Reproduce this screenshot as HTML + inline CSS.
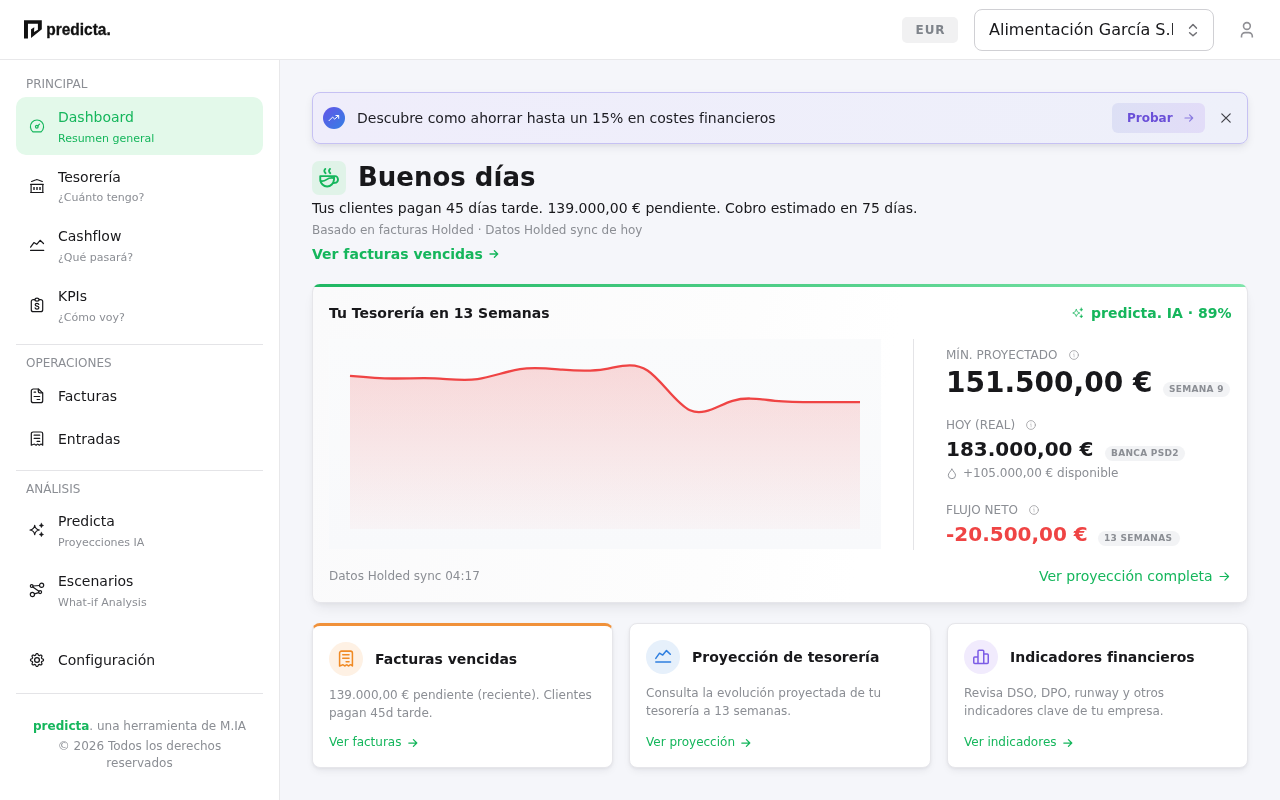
<!DOCTYPE html>
<html lang="es">
<head>
<meta charset="utf-8">
<title>predicta. Dashboard</title>
<style>
*{box-sizing:border-box;margin:0;padding:0}
html,body{width:1280px;height:800px;overflow:hidden}
body{font-family:"DejaVu Sans","Liberation Sans",sans-serif;background:#f5f6fa;color:#18181b;position:relative;font-size:14px;line-height:20px}
svg{display:block;overflow:visible}
.ic{position:absolute;width:16px;height:16px;fill:none;stroke:currentColor;stroke-width:1.2;stroke-linecap:round;stroke-linejoin:round}
/* header */
#hdr{position:absolute;left:0;top:0;width:1280px;height:60px;background:#fff;border-bottom:1px solid #e8e8ea}
#logo{position:absolute;left:24px;top:20px;width:90px;height:20px}
#eur{position:absolute;left:902px;top:17px;width:56px;height:26px;border-radius:5px;background:#f1f1f2;color:#7f848b;font-weight:700;font-size:12px;line-height:26px;text-align:center;letter-spacing:.9px;padding-left:1px}
#sel{position:absolute;left:974px;top:9px;width:240px;height:42px;border:1px solid #d0d0d4;border-radius:8px;background:#fff}
#sel span{position:absolute;left:14px;top:10px;width:184px;overflow:hidden;white-space:nowrap;font-size:16px;line-height:20px;color:#18181b}
/* sidebar */
#side{position:absolute;left:0;top:60px;width:280px;height:740px;background:#fff;border-right:1px solid #e8e8ea}
.sec{position:absolute;left:26px;font-size:12px;line-height:16px;color:#8b8e94;white-space:nowrap}
.hr{position:absolute;left:16px;width:247px;height:1px;background:#e4e4e7}
.it{position:absolute;left:16px;width:247px;height:58px;color:#18181b}
.it .t{position:absolute;left:42px;top:10px;font-size:14px;line-height:20px;white-space:nowrap}
.it .s{position:absolute;left:42px;top:33px;font-size:11px;line-height:15px;color:#8b8e94;white-space:nowrap}
.it .ic{left:13px;top:21px}
.it.one{height:40px}
.it.one .t{top:10px}
.it.one .ic{top:12px}
.act{background:#e3f9ea;border-radius:10px;color:#15b65c}
.act .s{color:#15b65c}
.foot{position:absolute;left:0;width:279px;text-align:center;font-size:12px;color:#8b8e94;white-space:nowrap}
.foot b{color:#15b65c}
/* main */
#ban{position:absolute;left:312px;top:92px;width:936px;height:52px;border:1px solid #c6c1f3;border-radius:8px;background:linear-gradient(90deg,#efedfb,#eef0fa);box-shadow:0 4px 10px -1px rgba(30,30,60,.09),0 2px 4px -1px rgba(30,30,60,.05)}
#ban .c{position:absolute;left:10px;top:14px;width:22px;height:22px;border-radius:50%;background:linear-gradient(135deg,#6454e8,#3380e4)}
#ban .tx{position:absolute;left:44px;top:15px;font-size:14px;line-height:20px;white-space:nowrap;color:#1c1c22}
#btn{position:absolute;left:799px;top:10px;width:93px;height:30px;border-radius:6px;background:linear-gradient(90deg,#dde0f5,#e2dcf8);color:#6a4fd8;font-weight:700;font-size:12px;line-height:30px;white-space:nowrap;padding-left:15px}
.g{color:#15b65c}
.m{color:#8b8e94}
.card{position:absolute;background:#fff;border:1px solid #e6e6ea;border-radius:8px;box-shadow:0 4px 8px -2px rgba(20,20,40,.08),0 1px 3px rgba(20,20,40,.05)}
.pill{position:absolute;height:15px;border-radius:8px;background:#f2f3f5;color:#8b8e94;font-weight:700;font-size:9px;line-height:15px;letter-spacing:.3px;padding:0 6px;white-space:nowrap}
.lbl{position:absolute;left:633px;font-size:12px;line-height:16px;color:#8b8e94;white-space:nowrap}
.num{position:absolute;left:633px;font-weight:700;white-space:nowrap;color:#18181b}
.ct{position:absolute;font-weight:700;font-size:14px;line-height:20px;white-space:nowrap}
.cd{position:absolute;left:16px;font-size:12px;line-height:18px;color:#8b8e94;white-space:nowrap}
.cl{position:absolute;left:16px;font-size:12px;line-height:16px;color:#15b65c;white-space:nowrap}
.circ{position:absolute;width:34px;height:34px;border-radius:50%}
.circ .ic{left:8px;top:8px;width:18px;height:18px;stroke-width:1.35}
.abs{position:absolute}
</style>
</head>
<body>

<div id="hdr">
  <svg id="logo" viewBox="0 0 90 20">
    <path fill="#111" d="M0 .2H17.8V9.3L7.05 18.1V9.3L10.3 7.2L10 12.1L13.9 9.65V3.8H3.96V18.4H0Z"/>
    <text x="22.2" y="14.8" font-family="Liberation Sans, DejaVu Sans, sans-serif" font-weight="700" font-size="17.2" fill="#111" stroke="#111" stroke-width=".3" textLength="64.6" lengthAdjust="spacingAndGlyphs">predicta.</text>
  </svg>
  <div id="eur">EUR</div>
  <div id="sel"><span>Alimentación García S.L.</span>
    <svg class="ic" style="left:210px;top:12px;color:#707075;stroke-width:1.5" viewBox="0 0 16 16"><path d="M4.6 6.1L8 2.6L11.4 6.1M4.6 10.7L8 13.7L11.4 10.7"/></svg>
  </div>
  <svg class="ic" style="left:1238px;top:22px;color:#909095;stroke-width:1.6" viewBox="0 0 16 16"><circle cx="8.9" cy="4" r="3.4"/><path d="M3.5 15.6V14.2A3.6 3.6 0 0 1 7.1 10.6H10.7A3.6 3.6 0 0 1 14.3 14.2V15.6" stroke-linecap="butt"/></svg>
</div>

<div id="side">
  <div class="sec" style="top:16px">PRINCIPAL</div>

  <div class="it act" style="top:37px">
    <svg class="ic" viewBox="0 0 16 16"><path d="M4.07 13.9A6.6 6.6 0 1 1 11.93 13.9Z"/><circle cx="7.8" cy="8.8" r="1.35"/><path d="M8.8 7.8L10.5 6.1"/></svg>
    <div class="t">Dashboard</div><div class="s" style="top:34px">Resumen general</div>
  </div>
  <div class="it" style="top:97px">
    <svg class="ic" viewBox="0 0 16 16"><path d="M2.6 3.5L7.1 1.7Q7.9 1.35 8.7 1.7L13.3 3.5M1.6 6.4H14.3M1.6 14.5H14.3M2.1 6.4V14.5M13.8 6.4V14.5"/><path d="M5 9V12M8 9V12M11 9V12" stroke-width="1.4" stroke-linecap="butt"/></svg>
    <div class="t">Tesorería</div><div class="s">¿Cuánto tengo?</div>
  </div>
  <div class="it" style="top:156px">
    <svg class="ic" style="top:22px" viewBox="0 0 16 16"><path d="M1.6 9.2L4.9 4.6L7.75 6.3L11.1 2.3L14.5 5.5M1.6 12.4H14.7"/></svg>
    <div class="t">Cashflow</div><div class="s" style="top:34px">¿Qué pasará?</div>
  </div>
  <div class="it" style="top:216px">
    <svg class="ic" style="top:22px" viewBox="0 0 16 16"><path d="M5.9 1.6H4.3A2 2 0 0 0 2.3 3.6V11.7A2 2 0 0 0 4.3 13.7H11.7A2 2 0 0 0 13.7 11.7V3.6A2 2 0 0 0 11.7 1.6H10.1"/><path d="M5.9 1.5A2.1 1.6 0 0 0 10.1 1.5A2.1 1.3 0 0 0 5.9 1.5Z"/><path d="M9.8 6.5Q9.6 5.3 8 5.3Q6.2 5.3 6.2 6.8Q6.2 7.9 8 8.2Q9.9 8.5 9.9 9.7Q9.9 11.1 8 11.1Q6.3 11.1 6.1 9.8"/></svg>
    <div class="t">KPIs</div><div class="s" style="top:34px">¿Cómo voy?</div>
  </div>

  <div class="hr" style="top:284px"></div>
  <div class="sec" style="top:295px">OPERACIONES</div>
  <div class="it one" style="top:316px">
    <svg class="ic" viewBox="0 0 16 16"><path d="M9.4 1H4.3A2 2 0 0 0 2.3 3V12.7A2 2 0 0 0 4.3 14.7H11.7A2 2 0 0 0 13.7 12.7V4.9Z"/><path d="M9.3 1.2V3.2A1.6 1.6 0 0 0 10.9 4.8H13.5" stroke-width="1.3"/><path d="M5.1 4.2H6.6M5.1 8.5H10.7M8.1 11.5H10.7"/></svg>
    <div class="t">Facturas</div>
  </div>
  <div class="it one" style="top:359px">
    <svg class="ic" viewBox="0 0 16 16"><path d="M2.3 14.2V2.7A1.7 1.7 0 0 1 4 1H12A1.7 1.7 0 0 1 13.7 2.7V14.2L12.6 13.3Q11.9 12.9 11.3 13.4L10.9 13.8Q10.3 14.4 9.6 13.8L9.2 13.4Q8.6 12.9 8 13.4L7.6 13.8Q7 14.4 6.3 13.8L5.9 13.4Q5.3 12.9 4.7 13.3Z"/><path d="M5.1 4.2H10.7M5.1 7.3H10.7M8.1 10.4H10.7"/></svg>
    <div class="t">Entradas</div>
  </div>

  <div class="hr" style="top:410px"></div>
  <div class="sec" style="top:421px">ANÁLISIS</div>
  <div class="it" style="top:441px">
    <svg class="ic" viewBox="0 0 16 16"><path d="M5.7 3.3Q6.2 7.4 10.4 8Q6.2 8.6 5.7 12.7Q5.2 8.6 1 8Q5.2 7.4 5.7 3.3Z"/><path fill="currentColor" stroke-width=".5" d="M12.4 1.3Q12.7 3.2 14.6 3.5Q12.7 3.8 12.4 5.7Q12.1 3.8 10.2 3.5Q12.1 3.2 12.4 1.3ZM12.4 10.3Q12.7 12.2 14.6 12.5Q12.7 12.8 12.4 14.7Q12.1 12.8 10.2 12.5Q12.1 12.2 12.4 10.3Z"/></svg>
    <div class="t">Predicta</div><div class="s" style="top:34px">Proyecciones IA</div>
  </div>
  <div class="it" style="top:501px">
    <svg class="ic" style="top:22px" viewBox="0 0 16 16"><circle cx="2.7" cy="3.1" r="1.4"/><circle cx="12.6" cy="2.3" r="2.1"/><circle cx="11.1" cy="9.1" r="1.5"/><circle cx="3.4" cy="11.5" r="2.1"/><path d="M4.1 3L10.5 2.5M3.8 4L9.9 8.3M9.7 9.6L5.4 10.9"/></svg>
    <div class="t">Escenarios</div><div class="s" style="top:34px">What-if Analysis</div>
  </div>
  <div class="it one" style="top:580px">
    <svg class="ic" viewBox="0 0 16 16"><path d="M8.00 1.50L8.56 1.63L9.04 2.09L9.33 3.02L9.69 3.37L10.08 3.53L10.58 3.54L11.44 3.08L12.11 3.10L12.60 3.40L12.90 3.89L12.92 4.56L12.46 5.42L12.47 5.92L12.63 6.31L12.98 6.67L13.91 6.96L14.37 7.44L14.50 8.00L14.37 8.56L13.91 9.04L12.98 9.33L12.63 9.69L12.47 10.08L12.46 10.58L12.92 11.44L12.90 12.11L12.60 12.60L12.11 12.90L11.44 12.92L10.58 12.46L10.08 12.47L9.69 12.63L9.33 12.98L9.04 13.91L8.56 14.37L8.00 14.50L7.44 14.37L6.96 13.91L6.67 12.98L6.31 12.63L5.92 12.47L5.42 12.46L4.56 12.92L3.89 12.90L3.40 12.60L3.10 12.11L3.08 11.44L3.54 10.58L3.53 10.08L3.37 9.69L3.02 9.33L2.09 9.04L1.63 8.56L1.50 8.00L1.63 7.44L2.09 6.96L3.02 6.67L3.37 6.31L3.53 5.92L3.54 5.42L3.08 4.56L3.10 3.89L3.40 3.40L3.89 3.10L4.56 3.08L5.42 3.54L5.92 3.53L6.31 3.37L6.67 3.02L6.96 2.09L7.44 1.63Z"/><circle cx="8" cy="8" r="2.4" stroke-width="1.3"/></svg>
    <div class="t">Configuración</div>
  </div>

  <div class="hr" style="top:633px"></div>
  <div class="foot" style="top:658px;line-height:16px"><b>predicta</b>. una herramienta de M.IA</div>
  <div class="foot" style="top:677.5px;line-height:17px">© 2026 Todos los derechos<br>reservados</div>
</div>

<div id="ban">
  <div class="c"><svg class="ic" style="left:5px;top:5px;width:12px;height:12px;color:#fff;stroke-width:1" viewBox="0 0 12 12"><path d="M1 8.7L4.6 5.1L6.7 7.1L10.7 3.5M7.9 3.5H10.7V6.3"/></svg></div>
  <div class="tx">Descubre como ahorrar hasta un 15% en costes financieros</div>
  <div id="btn">Probar<svg class="ic" style="left:72px;top:10px;width:10px;height:10px;color:#8a7be0;stroke-width:1.2" viewBox="0 0 10 10"><path d="M1 5H8.6M5.6 1.9L8.7 5L5.6 8.1"/></svg></div>
  <svg class="ic" style="left:908px;top:20px;width:10px;height:10px;color:#3f3f46;stroke-width:1.2" viewBox="0 0 10 10"><path d="M.8 .8L9.2 9.2M9.2 .8L.8 9.2"/></svg>
</div>

<div class="abs" style="left:312px;top:161px;width:34px;height:34px;border-radius:7px;background:#e0f3e8">
  <svg class="ic" style="left:7px;top:7px;width:20px;height:20px;color:#15b65c;stroke-width:1.9" viewBox="0 0 20 20"><path d="M1.25 8.1H15V11.6A6.9 7.5 0 0 1 1.25 11.6ZM15 8.1H16A3 3.4 0 0 1 16 14.9L14.5 15"/><path d="M1.4 12.9C3.5 13.6 5.5 13 7.5 11.6S12 9.6 15 10.2" stroke-width="1.7"/><path d="M6.3 .9Q4.2 3 6.6 5.2M11 .9Q8.9 3 11.3 5.2"/></svg>
</div>
<div class="abs" style="left:358px;top:161px;font-weight:700;font-size:26px;line-height:32px;white-space:nowrap">Buenos días</div>
<div class="abs" style="left:312px;top:198px;font-size:14px;line-height:20px;white-space:nowrap">Tus clientes pagan 45 días tarde. 139.000,00 € pendiente. Cobro estimado en 75 días.</div>
<div class="abs m" style="left:312px;top:222px;font-size:12px;line-height:16px;white-space:nowrap">Basado en facturas Holded · Datos Holded sync de hoy</div>
<div class="abs g" style="left:312px;top:244px;font-size:14px;line-height:20px;font-weight:700;white-space:nowrap">Ver facturas vencidas<svg class="ic" style="left:177px;top:5px;width:10px;height:10px;stroke-width:1.3" viewBox="0 0 10 10"><path d="M1 5H8.6M5.4 1.7L8.7 5L5.4 8.3"/></svg></div>

<!-- main card -->
<div class="card" style="left:312px;top:284px;width:936px;height:319px;box-shadow:0 8px 14px -4px rgba(20,20,40,.08),0 2px 5px -1px rgba(20,20,40,.05);border-top-color:transparent;background:linear-gradient(90deg,#1fb763,#7fe5ab) 0 0/100% 3px no-repeat border-box,linear-gradient(100deg,#fafafb 0%,#fdfdfd 45%,#fff 60%)">
  <div class="abs" style="left:16px;top:18px;font-weight:700;font-size:14px;line-height:20px;white-space:nowrap">Tu Tesorería en 13 Semanas</div>
  <div class="abs g" style="left:778px;top:18px;font-weight:700;font-size:14px;line-height:20px;white-space:nowrap">predicta. IA · 89%
    <svg class="ic" style="left:-19px;top:4px;width:12px;height:12px;stroke-width:1" viewBox="0 0 16 16"><path d="M5.7 3.3Q6.2 7.4 10.4 8Q6.2 8.6 5.7 12.7Q5.2 8.6 1 8Q5.2 7.4 5.7 3.3Z"/><path fill="currentColor" stroke-width=".5" d="M12.4 1.3Q12.7 3.2 14.6 3.5Q12.7 3.8 12.4 5.7Q12.1 3.8 10.2 3.5Q12.1 3.2 12.4 1.3ZM12.4 10.3Q12.7 12.2 14.6 12.5Q12.7 12.8 12.4 14.7Q12.1 12.8 10.2 12.5Q12.1 12.2 12.4 10.3Z"/></svg>
  </div>
  <svg class="abs" style="left:16px;top:54px;width:552px;height:210px" viewBox="329 339 552 210">
    <defs><linearGradient id="bx" x1="0" y1="0" x2="0" y2="1"><stop offset="0" stop-color="#fafbfc"/><stop offset="1" stop-color="#f8f9fb"/></linearGradient><linearGradient id="rf" x1="0" y1="0" x2="0" y2="1"><stop offset="0" stop-color="#ef4444" stop-opacity=".19"/><stop offset="1" stop-color="#ef4444" stop-opacity=".03"/></linearGradient></defs>
    <rect x="329" y="339" width="552" height="210" fill="url(#bx)"/>
    <path id="area" fill="url(#rf)" d="M350.00 375.80C364.17 377.06 378.33 378.31 392.50 378.50C406.67 378.69 420.83 377.81 435.00 378.40C449.17 378.99 463.33 381.03 477.50 379.10C491.67 377.17 505.83 371.26 520.00 369.10C534.17 366.94 548.33 368.53 562.50 369.70C576.67 370.87 590.83 371.62 605.00 369.20C619.17 366.78 633.33 361.20 647.50 370.50C661.67 379.80 675.83 403.97 690.00 410.30C704.17 416.63 718.33 405.12 732.50 400.80C746.67 396.48 760.83 399.37 775.00 400.80C789.17 402.23 803.33 402.21 817.50 402.20C831.67 402.19 845.83 402.20 860.00 402.20L860 529L350 529Z"/>
    <path id="line" fill="none" stroke="#ef4444" stroke-width="2.3" stroke-linecap="butt" stroke-linejoin="round" d="M350.00 375.80C364.17 377.06 378.33 378.31 392.50 378.50C406.67 378.69 420.83 377.81 435.00 378.40C449.17 378.99 463.33 381.03 477.50 379.10C491.67 377.17 505.83 371.26 520.00 369.10C534.17 366.94 548.33 368.53 562.50 369.70C576.67 370.87 590.83 371.62 605.00 369.20C619.17 366.78 633.33 361.20 647.50 370.50C661.67 379.80 675.83 403.97 690.00 410.30C704.17 416.63 718.33 405.12 732.50 400.80C746.67 396.48 760.83 399.37 775.00 400.80C789.17 402.23 803.33 402.21 817.50 402.20C831.67 402.19 845.83 402.20 860.00 402.20"/>
  </svg>
  <div class="abs" style="left:600px;top:54px;width:1px;height:211px;background:#e4e4e7"></div>

  <div class="lbl" style="top:62px">MÍN. PROYECTADO</div><svg class="ic" style="left:756px;top:65px;width:10px;height:10px;color:#9c9ca0;stroke-width:.8" viewBox="0 0 10 10"><circle cx="5" cy="5" r="4.4"/><path d="M4.6 4.3H5.1V6.9M5 2.9V3" stroke-width=".7" opacity=".7"/></svg>
  <div class="num" style="top:80px;font-size:28px;line-height:36px">151.500,00 €</div>
  <div class="pill" style="left:850px;top:97px;width:67px">SEMANA 9</div>

  <div class="lbl" style="top:132px">HOY (REAL)</div><svg class="ic" style="left:713px;top:135px;width:10px;height:10px;color:#9c9ca0;stroke-width:.8" viewBox="0 0 10 10"><circle cx="5" cy="5" r="4.4"/><path d="M4.6 4.3H5.1V6.9M5 2.9V3" stroke-width=".7" opacity=".7"/></svg>
  <div class="num" style="top:150px;font-size:20px;line-height:28px">183.000,00 €</div>
  <div class="pill" style="left:792px;top:161px;width:80px">BANCA PSD2</div>
  <svg class="ic" style="left:633px;top:182px;width:12px;height:14px;color:#85888e;stroke-width:.9" viewBox="0 0 12 14"><path d="M5.9 2.2C4.4 4.6 2.3 6.3 2.3 8.3A3.6 3.4 0 0 0 9.5 8.3C9.5 6.3 7.4 4.6 5.9 2.2Z"/></svg><div class="lbl" style="left:650px;top:180px">+105.000,00 € disponible</div>

  <div class="lbl" style="top:217px">FLUJO NETO</div><svg class="ic" style="left:716px;top:220px;width:10px;height:10px;color:#9c9ca0;stroke-width:.8" viewBox="0 0 10 10"><circle cx="5" cy="5" r="4.4"/><path d="M4.6 4.3H5.1V6.9M5 2.9V3" stroke-width=".7" opacity=".7"/></svg>
  <div class="num" style="top:235px;font-size:20px;line-height:28px;color:#ef4444">-20.500,00 €</div>
  <div class="pill" style="left:785px;top:246px;width:82px">13 SEMANAS</div>

  <div class="abs m" style="left:16px;top:283px;font-size:12px;line-height:16px;white-space:nowrap">Datos Holded sync 04:17</div>
  <div class="abs g" style="left:726px;top:281px;font-size:14px;line-height:20px;white-space:nowrap">Ver proyección completa<svg class="ic" style="left:180px;top:4.5px;width:11px;height:11px;stroke-width:1.1" viewBox="0 0 10 10"><path d="M1 5H8.6M5.4 1.7L8.7 5L5.4 8.3"/></svg></div>
</div>

<!-- cards -->
<div class="card" style="left:312px;top:623px;width:301px;height:145px;border-top:3px solid #f0913a">
  <div class="circ" style="left:16px;top:16px;background:#fef1e4;color:#f08a24"><svg class="ic" viewBox="0 0 16 16"><path d="M2.3 14.2V2.7A1.7 1.7 0 0 1 4 1H12A1.7 1.7 0 0 1 13.7 2.7V14.2L12.6 13.3Q11.9 12.9 11.3 13.4L10.9 13.8Q10.3 14.4 9.6 13.8L9.2 13.4Q8.6 12.9 8 13.4L7.6 13.8Q7 14.4 6.3 13.8L5.9 13.4Q5.3 12.9 4.7 13.3Z"/><path d="M5.1 4.2H10.7M5.1 7.3H10.7M8.1 10.4H10.7"/></svg></div>
  <div class="ct" style="left:62px;top:23px">Facturas vencidas</div>
  <div class="cd" style="top:60px">139.000,00 € pendiente (reciente). Clientes<br>pagan 45d tarde.</div>
  <div class="cl" style="top:108px">Ver facturas<svg class="ic" style="left:79px;top:4px;width:10px;height:10px;stroke-width:1.25" viewBox="0 0 10 10"><path d="M.8 5H8.8M5.4 1.6L8.8 5L5.4 8.4"/></svg></div>
</div>
<div class="card" style="left:629px;top:623px;width:302px;height:145px">
  <div class="circ" style="left:16px;top:16px;background:#e6f0fb;color:#2f7fe0"><svg class="ic" viewBox="0 0 16 16"><path d="M1.6 9.2L4.9 4.6L7.75 6.3L11.1 2.3L14.5 5.5M1.6 12.4H14.7"/></svg></div>
  <div class="ct" style="left:62px;top:23px">Proyección de tesorería</div>
  <div class="cd" style="top:60px">Consulta la evolución proyectada de tu<br>tesorería a 13 semanas.</div>
  <div class="cl" style="top:110px">Ver proyección<svg class="ic" style="left:95px;top:4px;width:10px;height:10px;stroke-width:1.25" viewBox="0 0 10 10"><path d="M.8 5H8.8M5.4 1.6L8.8 5L5.4 8.4"/></svg></div>
</div>
<div class="card" style="left:947px;top:623px;width:301px;height:145px">
  <div class="circ" style="left:16px;top:16px;background:#f1ebfd;color:#7c5ce6"><svg class="ic" style="left:7px;top:7px;width:20px;height:20px;stroke-width:1.2" viewBox="0 0 16 16"><path d="M5.6 13.2H3A.8.8 0 0 1 2.2 12.4V8.8A.8.8 0 0 1 3 8H5.6M5.6 13.2V3.4A.8.8 0 0 1 6.4 2.6H9.4A.8.8 0 0 1 10.2 3.4V13.2ZM10.2 5.6H13A.8.8 0 0 1 13.8 6.4V12.4A.8.8 0 0 1 13 13.2H10.2"/></svg></div>
  <div class="ct" style="left:62px;top:23px">Indicadores financieros</div>
  <div class="cd" style="top:60px">Revisa DSO, DPO, runway y otros<br>indicadores clave de tu empresa.</div>
  <div class="cl" style="top:110px">Ver indicadores<svg class="ic" style="left:98.5px;top:4px;width:10px;height:10px;stroke-width:1.25" viewBox="0 0 10 10"><path d="M.8 5H8.8M5.4 1.6L8.8 5L5.4 8.4"/></svg></div>
</div>

</body>
</html>
